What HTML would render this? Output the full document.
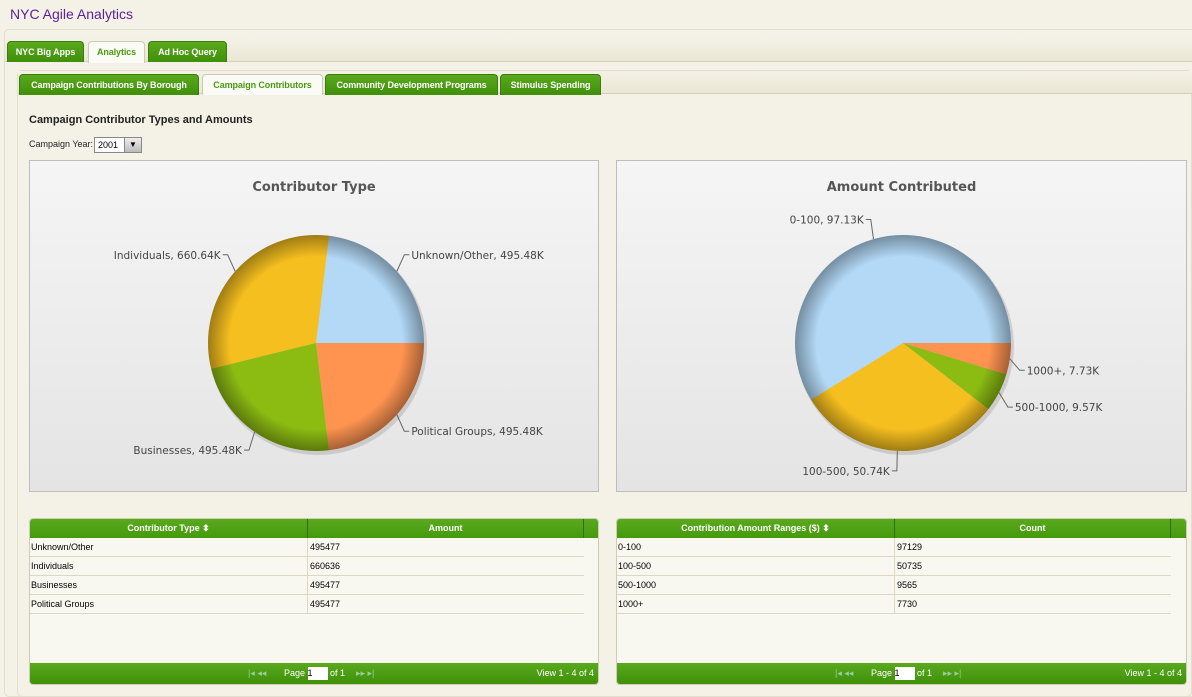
<!DOCTYPE html>
<html><head><meta charset="utf-8"><style>
*{box-sizing:border-box;margin:0;padding:0}
body{width:1192px;height:697px;overflow:hidden;background:#f4f1e6;font-family:"Liberation Sans",sans-serif;position:relative}
.abs{position:absolute}
.tab{position:absolute;height:21px;background:linear-gradient(#5aa91e,#3f8f0a);border:1px solid #3a7d0c;border-bottom:none;border-radius:4px 4px 0 0;color:#fff;font-weight:bold;font-size:9px;text-align:center;line-height:20px;letter-spacing:-0.1px}
.tab.sel{background:#fbfbf6;color:#4a9a10;border-color:#ccc9b4}
.panel{position:absolute;border:1px solid #bdbdbd;background:linear-gradient(#f5f5f5,#e4e4e4)}
.tbl{position:absolute;border:1px solid #cfcbb5;background:#f8f7f0;border-radius:4px;overflow:hidden}
.th{position:absolute;top:0;height:19px;background:linear-gradient(#5aa91e,#459a0c);color:#fff;font-weight:bold;font-size:9px;text-align:center;line-height:19px;border-right:1px solid #2f6e08}
.row{position:absolute;left:0;height:19px;border-bottom:1px solid #ddd8c6;font-size:9px;line-height:19px}
.row span{position:absolute;top:0;height:19px;padding-left:1px}
.foot{position:absolute;left:0;right:0;bottom:0;height:21px;background:linear-gradient(#5aa91e,#3f900a);color:#fff;font-size:9px;line-height:21px}
</style></head><body>
<div class="abs" style="left:10px;top:6px;font-size:14px;color:#5a1f9a">NYC Agile Analytics</div>
<div class="abs" style="left:4px;top:29px;width:1192px;height:668px;border:1px solid #e2dfcd;border-radius:5px;background:#f4f1e6"></div>
<div class="abs" style="left:5px;top:38px;width:1187px;height:24px;background:linear-gradient(#f4f1e6,#ebe7d6);border-bottom:1px solid #d4d0bc"></div>
<div class="tab" style="left:7px;top:41px;width:77px">NYC Big Apps</div>
<div class="tab sel" style="left:88px;top:41px;width:57px;height:22px">Analytics</div>
<div class="tab" style="left:148px;top:41px;width:79px">Ad Hoc Query</div>
<div class="abs" style="left:17px;top:70px;width:1175px;height:627px;border:1px solid #e2dfcd;border-radius:5px;background:#f4f1e6"></div>
<div class="abs" style="left:18px;top:71px;width:1174px;height:23px;background:linear-gradient(#f4f1e6,#ebe7d6);border-bottom:1px solid #d4d0bc"></div>
<div class="tab" style="left:19px;top:74px;width:180px">Campaign Contributions By Borough</div>
<div class="tab sel" style="left:202px;top:74px;width:121px;height:21px">Campaign Contributors</div>
<div class="tab" style="left:325px;top:74px;width:173px">Community Development Programs</div>
<div class="tab" style="left:500px;top:74px;width:101px">Stimulus Spending</div>
<div class="abs" style="left:29px;top:114px;font-size:11px;font-weight:bold;color:#222">Campaign Contributor Types and Amounts</div>
<div class="abs" style="left:29px;top:139px;font-size:9px;color:#222">Campaign Year:</div>
<div class="abs" style="left:94px;top:137px;width:48px;height:16px;border:1px solid #888;background:#fff;font-size:9px;line-height:14px;padding-left:3px">2001<span style="position:absolute;right:0;top:0;width:17px;height:14px;background:linear-gradient(#eee,#bbb);border-left:1px solid #888;font-size:8px;text-align:center">▼</span></div>

<div class="panel" style="left:29px;top:160px;width:570px;height:332px"><svg id="c1" width="568" height="330"></svg></div>
<div class="panel" style="left:616px;top:160px;width:571px;height:332px"><svg id="c2" width="569" height="330"></svg></div>

<div class="tbl" style="left:29px;top:518px;width:570px;height:167px">
<div class="th" style="left:0;width:278px">Contributor Type ⬍</div>
<div class="th" style="left:278px;width:276px">Amount</div>
<div class="th" style="left:554px;width:16px;border:none"></div>
<div id="rows1"></div>
<div class="foot"><span style="position:absolute;left:218px;color:#9c9">|◂ ◂◂</span><span style="position:absolute;left:254px">Page <span style="display:inline-block;width:20px;height:13px;background:#fff;color:#000;vertical-align:middle;line-height:13px">1</span> of 1</span><span style="position:absolute;left:326px;color:#9c9">▸▸ ▸|</span><span style="position:absolute;right:4px">View 1 - 4 of 4</span></div>
</div>
<div class="tbl" style="left:616px;top:518px;width:571px;height:167px">
<div class="th" style="left:0;width:278px">Contribution Amount Ranges ($) ⬍</div>
<div class="th" style="left:278px;width:276px">Count</div>
<div class="th" style="left:554px;width:17px;border:none"></div>
<div id="rows2"></div>
<div class="foot"><span style="position:absolute;left:218px;color:#9c9">|◂ ◂◂</span><span style="position:absolute;left:254px">Page <span style="display:inline-block;width:20px;height:13px;background:#fff;color:#000;vertical-align:middle;line-height:13px">1</span> of 1</span><span style="position:absolute;left:326px;color:#9c9">▸▸ ▸|</span><span style="position:absolute;right:4px">View 1 - 4 of 4</span></div>
</div>

<script>
const typeCats=["Unknown/Other","Individuals","Businesses","Political Groups"];
const typeVals=[495477,660636,495477,495477];
const rangeCats=["0-100","100-500","500-1000","1000+"];
const rangeVals=[97129,50735,9565,7730];
const colors=["#b3d9f7","#f5bf1f","#8cbb12","#ff9451"];
const NS="http://www.w3.org/2000/svg";
function mk(p,t,a){const e=document.createElementNS(NS,t);for(const k in a)e.setAttribute(k,a[k]);p.appendChild(e);return e;}
function fmt(v){return (Math.round(v/10)/100).toFixed(2).replace(/0$/,'')+"K";}
function pie(id,title,cats,vals,cx,cy,r){
  const s=document.getElementById(id);
  const d=mk(s,"defs",{});
  const g=mk(d,"radialGradient",{id:id+"g",cx:"50%",cy:"50%",r:"50%"});
  mk(g,"stop",{offset:"0.8","stop-color":"#000","stop-opacity":"0"});
  mk(g,"stop",{offset:"1","stop-color":"#000","stop-opacity":"0.35"});
  const t=mk(s,"text",{x:s.getAttribute("width")/2,y:30,"text-anchor":"middle","font-size":13,"font-weight":"bold",fill:"#555","font-family":"DejaVu Sans,sans-serif"});
  t.textContent=title;
  
  
  mk(s,"circle",{cx:cx+2,cy:cy+3,r:r+1,fill:"#000",opacity:"0.12"});
  const tot=vals.reduce((a,b)=>a+b,0);let a0=0;
  vals.forEach((v,i)=>{
    const a1=a0+v/tot*2*Math.PI;
    const x0=cx+r*Math.cos(a0),y0=cy-r*Math.sin(a0),x1=cx+r*Math.cos(a1),y1=cy-r*Math.sin(a1);
    const p=mk(s,"path",{d:`M${cx},${cy}L${x0},${y0}A${r},${r} 0 ${a1-a0>Math.PI?1:0} 0 ${x1},${y1}Z`,fill:colors[i]});
    
    
    const m=(a0+a1)/2,c=Math.cos(m),sn=Math.sin(m);
    const ex=cx+(r+10)*c,ey=cy-(r+10)*sn-(sn>0?10:-10);
    const lx=ex+(c>=0?5:-5);
    mk(s,"polyline",{points:`${cx+r*c},${cy-r*sn} ${ex},${ey} ${lx},${ey}`,fill:"none",stroke:"#666","stroke-width":1});
    const l=mk(s,"text",{x:lx+(c>=0?2:-2),y:ey+4,"text-anchor":c>=0?"start":"end","font-size":10.5,fill:"#444","font-family":"DejaVu Sans,sans-serif"});
    l.textContent=cats[i]+", "+fmt(v);
    
    
    a0=a1;
  });
  mk(s,"circle",{cx:cx,cy:cy,r:r,fill:`url(#${id}g)`});
}
pie("c1","Contributor Type",typeCats,typeVals,286,182,108);
pie("c2","Amount Contributed",rangeCats,rangeVals,286,182,108);
function rows(id,cats,vals){
  const c=document.getElementById(id);
  cats.forEach((n,i)=>{
    const r=document.createElement("div");r.className="row";r.style.top=(19+i*19)+"px";r.style.width="554px";
    
    
    r.innerHTML=`<span style="left:0;width:278px;border-right:1px solid #ddd8c6">${n}</span><span style="left:279px">${vals[i]}</span>`;
    c.appendChild(r);
  });
}
rows("rows1",typeCats,typeVals);rows("rows2",rangeCats,rangeVals);
</script>
</body></html>
